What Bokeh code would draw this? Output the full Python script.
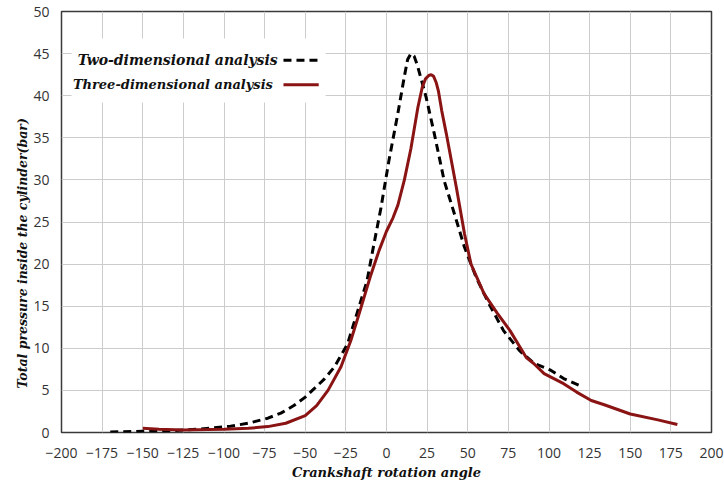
from bokeh.plotting import figure
from bokeh.models import Range1d, FixedTicker, BoxAnnotation, Label, Title
from bokeh.embed import file_html
from bokeh.resources import INLINE

# 2D analysis (dashed)
x2d = [-170, -150, -135, -115, -96, -85, -73, -65, -57, -50, -44.5, -38, -32, -24, -20, -12,
       -8.5, -3.4, 1.5, 7, 11, 13, 15, 17, 19, 21, 24.4, 29.4, 35.5, 43, 48, 55, 62.5, 72, 82, 91, 101, 109, 118.5]
y2d = [0.05, 0.15, 0.2, 0.4, 0.75, 1.1, 1.7, 2.3, 3.2, 4.2, 5.2, 6.4, 7.8, 10.5, 13, 18,
       21.6, 26.7, 32.3, 37.9, 42.3, 44.3, 45.0, 44.7, 43.6, 42.2, 39.8, 35.5, 29.9, 25.2, 22, 18.5, 15.5, 12.1, 9.7, 8.2, 7.4, 6.4, 5.6]

# 3D analysis (solid red)
x3d = [-150, -140, -125, -110, -100, -85, -73, -62, -50, -43, -36, -28, -22, -17, -10, -4.6, 0, 4, 7,
       11, 15, 19.3, 22, 24, 26, 27.5, 29, 30.5, 32, 34, 36.8, 43, 48, 52, 60, 68, 76, 86, 90.6, 97, 109, 117,
       126, 134, 150, 167, 179]
y3d = [0.5, 0.4, 0.3, 0.35, 0.4, 0.5, 0.7, 1.1, 2.0, 3.2, 5.0, 7.8, 10.9, 14, 18.5, 21.6, 23.9, 25.5, 27.0,
       30, 33.7, 38.6, 41.0, 42.0, 42.4, 42.5, 42.3, 41.6, 40.5, 38.2, 35.5, 29.1, 23.6, 20.0, 16.5, 14.2, 12.1, 8.9, 8.2, 7.0, 5.8, 4.8,
       3.8, 3.3, 2.2, 1.5, 0.95]

x_ticks = list(range(-200, 201, 25))
y_ticks = list(range(0, 51, 5))

labels = ["Two-dimensional analysis", "Three-dimensional analysis"]
x_title = "Crankshaft rotation angle"
y_title = "Total pressure inside the cylinder(bar)"

p = figure(width=724, height=483, output_backend="svg", toolbar_location=None,
           x_range=Range1d(-200, 200), y_range=Range1d(0, 50),
           min_border_left=61, min_border_right=13, min_border_top=11, min_border_bottom=51)
p.background_fill_color = "white"
p.border_fill_color = "white"
p.outline_line_color = "#3a3a3a"
p.outline_line_width = 1.5

p.xaxis.ticker = FixedTicker(ticks=x_ticks)
p.yaxis.ticker = FixedTicker(ticks=y_ticks)
for ax in (p.xaxis, p.yaxis):
    ax.axis_line_color = None
    ax.major_tick_line_color = None
    ax.minor_tick_line_color = None
    ax.major_label_text_font = "Open Sans"
    ax.major_label_text_font_size = "14px"
    ax.major_label_text_color = "#333333"
    ax.axis_label_text_font = "DejaVu Serif"
    ax.axis_label_text_font_style = "bold italic"
    ax.axis_label_text_color = "#111111"
p.xaxis.major_label_standoff = 9
p.yaxis.major_label_standoff = 6
p.xaxis.axis_label = x_title
p.xaxis.axis_label_text_font_size = "13px"
p.xaxis.axis_label_standoff = 4

# y title as a side title so it can be shifted along the axis
p.add_layout(Title(text=y_title, align="left", offset=44, standoff=2,
                   text_font="DejaVu Serif", text_font_style="bold italic",
                   text_font_size="12.5px", text_color="#111111"), "left")

p.grid.grid_line_color = "#cccccc"
p.grid.grid_line_width = 1

p.line(x2d, y2d, line_color="black", line_width=3, line_dash="8 5")
p.line(x3d, y3d, line_color="#8a1414", line_width=3)

# legend (label left, sample right)
p.add_layout(BoxAnnotation(left=-193.8, right=-37.5, bottom=39.2, top=46.8,
                           fill_color="white", fill_alpha=1, line_color=None, level="underlay"))
p.add_layout(Label(x=-190, y=44.2, text=labels[0], text_font="DejaVu Serif",
                   text_font_style="bold italic", text_font_size="14px", text_baseline="middle",
                   text_color="#111111"))
p.add_layout(Label(x=-193, y=41.3, text=labels[1], text_font="DejaVu Serif",
                   text_font_style="bold italic", text_font_size="13px", text_baseline="middle",
                   text_color="#111111"))
p.line([-63.4, -41.7], [44.2, 44.2], line_color="black", line_width=3, line_dash="8 5")
p.line([-63.4, -41.7], [41.3, 41.3], line_color="#8a1414", line_width=3)

open("out.html", "w").write(file_html(p, INLINE))
